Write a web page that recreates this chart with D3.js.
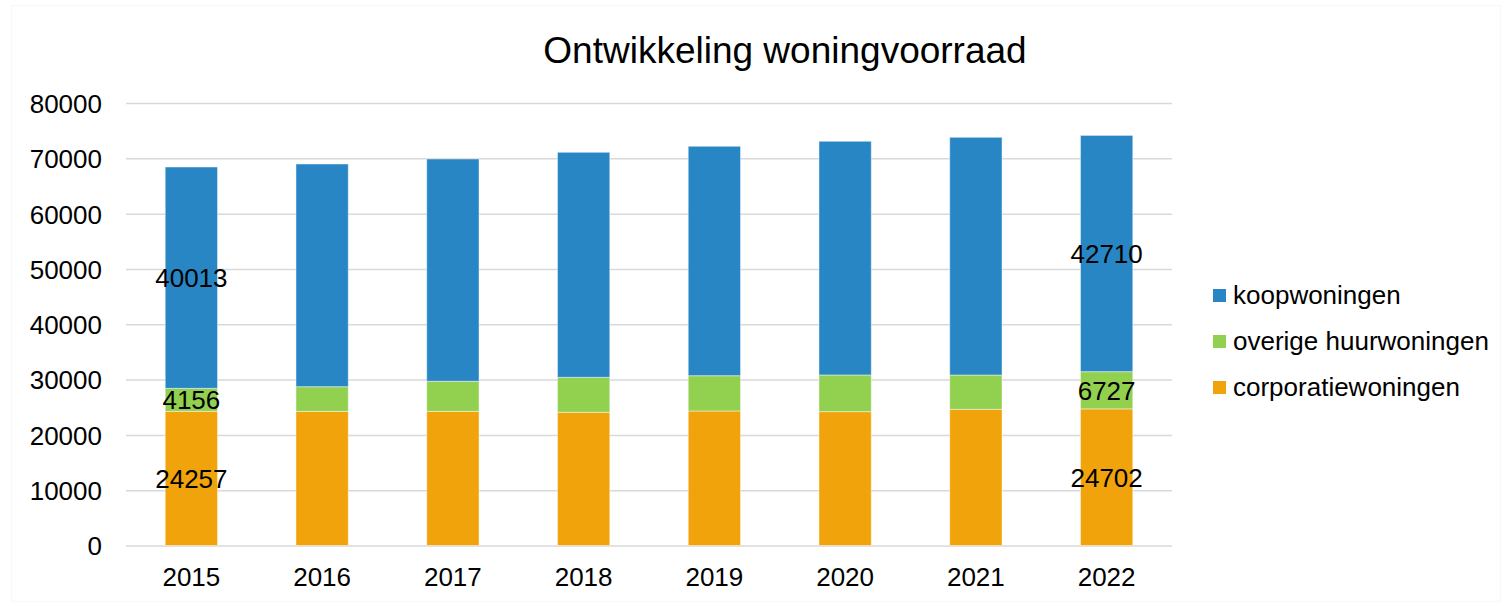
<!DOCTYPE html>
<html>
<head>
<meta charset="utf-8">
<script src="https://cdn.jsdelivr.net/npm/d3@7"></script>
<style>
  body { margin: 0; background: #fff; }
  text { font-family: "Liberation Sans", Arial, sans-serif; fill: #000; }
</style>
</head>
<body>
<svg id="chart"></svg>
<script>
const years = ["2015","2016","2017","2018","2019","2020","2021","2022"]
const corporatie = [24257, 24250, 24250, 24080, 24320, 24200, 24620, 24702]
const overige = [4156, 4460, 5440, 6330, 6380, 6630, 6200, 6727]
const koop = [40013, 40260, 40190, 40680, 41475, 42250, 42980, 42710]
const yTicks = [0, 10000, 20000, 30000, 40000, 50000, 60000, 70000, 80000]
const seriesNames = ["corporatiewoningen", "overige huurwoningen", "koopwoningen"]
const seriesKeys = ["corporatie", "overige", "koop"]
const colors = { corporatie: "#f0a30a", overige: "#92d050", koop: "#2986c5" }
// labels only shown on first and last year
const labelYears = ["2015", "2022"]

const rows = years.map((y, i) => ({year: y, corporatie: corporatie[i], overige: overige[i], koop: koop[i]}))

const W = 1509, H = 606
const svg = d3.select("#chart").attr("width", W).attr("height", H)

const x = d3.scaleBand().domain(years).range([126, 1172]).paddingInner(0.6).paddingOuter(0.3)
const y = d3.scaleLinear().domain([0, 80000]).range([545.5, 103])

// faint outer frame
svg.append("rect")
  .attr("x", 11.5).attr("y", 5.5).attr("width", W - 20).attr("height", H - 10)
  .attr("fill", "none").attr("stroke", "#f8f8f8")

svg.append("text")
  .attr("x", 785).attr("y", 63)
  .attr("text-anchor", "middle")
  .attr("font-size", "37px")
  .text("Ontwikkeling woningvoorraad")

// grid + y labels
const yAxis = d3.axisLeft(y).tickValues(yTicks).tickSize(-(1172 - 126)).tickPadding(24).tickFormat(d3.format("d"))
const ga = svg.append("g").attr("transform", "translate(126,0)").call(yAxis)
ga.select(".domain").remove()
ga.selectAll(".tick line").attr("stroke", "#d9d9d9").attr("stroke-width", 1.5)
ga.selectAll(".tick text").attr("font-size", "26px").attr("font-family", "Liberation Sans, Arial, sans-serif").attr("fill", "#000").attr("dy", "0.36em")

// x labels
const xa = svg.append("g").attr("transform", "translate(0,545.5)")
  .call(d3.axisBottom(x).tickSize(0).tickPadding(22))
xa.select(".domain").remove()
xa.selectAll(".tick text").attr("font-size", "26px").attr("font-family", "Liberation Sans, Arial, sans-serif").attr("fill", "#000")

const stacked = d3.stack().keys(seriesKeys)(rows)

const layers = svg.selectAll("g.layer")
  .data(stacked).enter()
  .append("g").attr("class", "layer")
  .attr("fill", d => colors[d.key])

layers.selectAll("rect")
  .data(d => d).enter()
  .append("rect")
  .attr("x", d => x(d.data.year))
  .attr("width", x.bandwidth())
  .attr("y", d => y(d[1]))
  .attr("height", d => y(d[0]) - y(d[1]))
  .attr("stroke", "rgba(255,255,255,0.45)")
  .attr("stroke-width", 1)

layers.selectAll("text")
  .data(d => d.filter(p => labelYears.includes(p.data.year)).map(p => ({p: p, key: d.key})))
  .enter()
  .append("text")
  .attr("x", d => x(d.p.data.year) + x.bandwidth() / 2)
  .attr("y", d => (y(d.p[0]) + y(d.p[1])) / 2)
  .attr("dy", "0.36em")
  .attr("text-anchor", "middle")
  .attr("font-size", "26px")
  .text(d => d.p.data[d.key])

// legend (top item = koop)
const legendItems = seriesKeys.map((k, i) => ({key: k, name: seriesNames[i]})).reverse()
const lg = svg.selectAll("g.legend")
  .data(legendItems).enter()
  .append("g").attr("class", "legend")
  .attr("transform", (d, i) => "translate(1213," + (295 + i * 46) + ")")
lg.append("rect")
  .attr("x", 0).attr("y", -6).attr("width", 13).attr("height", 13)
  .attr("fill", d => colors[d.key])
lg.append("text")
  .attr("x", 20).attr("y", 0).attr("dy", "0.36em")
  .attr("font-size", "26px")
  .text(d => d.name)
</script>
</body>
</html>
